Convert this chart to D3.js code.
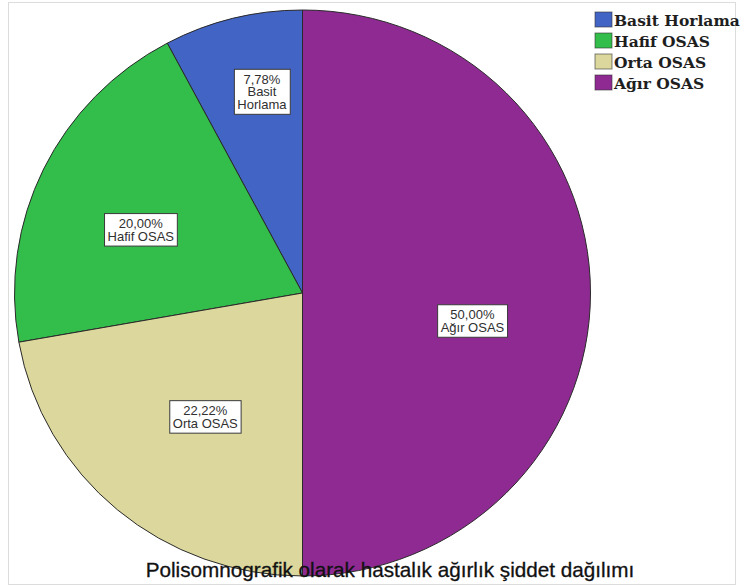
<!DOCTYPE html>
<html>
<head>
<meta charset="utf-8">
<script src="https://cdn.jsdelivr.net/npm/d3@7"></script>
<style>
  html, body { margin: 0; padding: 0; background: #fff; }
  svg { display: block; }
</style>
</head>
<body>
<svg id="chart" width="742" height="588"></svg>
<script>
// Severity groups and their share of patients (%)
const categories = ["Basit Horlama", "Hafif OSAS", "Orta OSAS", "Ağır OSAS"];
const percents = [7.78, 20.00, 22.22, 50.00];
const colors = ["#4264c4", "#33bd4b", "#dcd89d", "#8f2a93"];
const caption = "Polisomnografik olarak hastalık ağırlık şiddet dağılımı";

const data = categories.map((c, i) => ({ name: c, value: percents[i], color: colors[i] }));

const svg = d3.select("#chart");

// outer frame
svg.append("rect")
  .attr("x", 8.5).attr("y", 2.5)
  .attr("width", 727).attr("height", 582)
  .attr("fill", "#fff")
  .attr("stroke", "#dcdcdc").attr("stroke-width", 1);

// pie geometry
const cx = 302.5, cy = 293, R = 288, yScale = 283 / 288;

const pie = d3.pie()
  .sort(null)
  .value(d => d.value)
  .startAngle(0)
  .endAngle(-2 * Math.PI);

const arcs = pie(data);
const arc = d3.arc().innerRadius(0).outerRadius(R);

const pieG = svg.append("g")
  .attr("transform", `translate(${cx},${cy}) scale(1,${yScale})`);

pieG.selectAll("path")
  .data(arcs)
  .join("path")
  .attr("d", arc)
  .attr("fill", d => d.data.color)
  .attr("stroke", "#2a2a2a")
  .attr("stroke-width", 1)
  .attr("vector-effect", "non-scaling-stroke");

// value labels inside the slices
const total = d3.sum(percents);
const labelNudge = {
  "Basit Horlama": [11, 2],
  "Hafif OSAS": [-9, 10],
  "Orta OSAS": [12, -4],
  "Ağır OSAS": [0, 28]
};
const fmt = v => v.toFixed(2).replace(".", ",") + "%";

const labelG = svg.append("g")
  .attr("font-family", "'Liberation Sans', Arial, sans-serif")
  .attr("font-size", 13)
  .attr("fill", "#303030");

arcs.forEach(d => {
  const narrow = d.data.value / total < 0.1;
  const r = R * (narrow ? 0.74 : 0.59);
  const [lx, ly] = d3.arc().innerRadius(r).outerRadius(r).centroid(d);
  const nudge = labelNudge[d.data.name] || [0, 0];
  const x = cx + lx + nudge[0];
  const y = cy + ly * yScale + nudge[1];
  const lines = [fmt(d.data.value)].concat(narrow ? d.data.name.split(" ") : [d.data.name]);
  const lh = 12.5;
  const g = labelG.append("g").attr("transform", `translate(${x},${y})`);
  const box = g.append("rect");
  const t = g.append("text").attr("text-anchor", "middle");
  lines.forEach((s, i) => {
    t.append("tspan")
      .attr("x", 0)
      .attr("y", (i - (lines.length - 1) / 2) * lh + 4.5)
      .text(s);
  });
  const bb = t.node().getBBox();
  const padX = 3, padY = 2.5;
  box.attr("x", bb.x - padX).attr("y", bb.y - padY)
    .attr("width", bb.width + 2 * padX).attr("height", bb.height + 2 * padY)
    .attr("fill", "#fff")
    .attr("stroke", "#3a3a3a").attr("stroke-width", 1);
});

// legend
const legend = svg.append("g").attr("transform", "translate(595,12)");
const rowH = 21;
const row = legend.selectAll("g")
  .data(data)
  .join("g")
  .attr("transform", (d, i) => `translate(0,${i * rowH})`);
row.append("rect")
  .attr("width", 17).attr("height", 15)
  .attr("fill", d => d.color)
  .attr("stroke", "#333").attr("stroke-opacity", 0.6).attr("stroke-width", 1);
row.append("text")
  .attr("x", 19).attr("y", 14)
  .attr("font-family", "'DejaVu Serif', serif")
  .attr("font-weight", "bold")
  .attr("font-size", 15.5)
  .attr("fill", "#1e1e1e")
  .text(d => d.name);

// caption drawn over the pie
svg.append("text")
  .attr("x", 390).attr("y", 577)
  .attr("text-anchor", "middle")
  .attr("font-family", "'Liberation Sans', Arial, sans-serif")
  .attr("font-size", 20.7)
  .attr("fill", "#111")
  .attr("stroke", "#111")
  .attr("stroke-width", 0.3)
  .text(caption);
</script>
</body>
</html>
